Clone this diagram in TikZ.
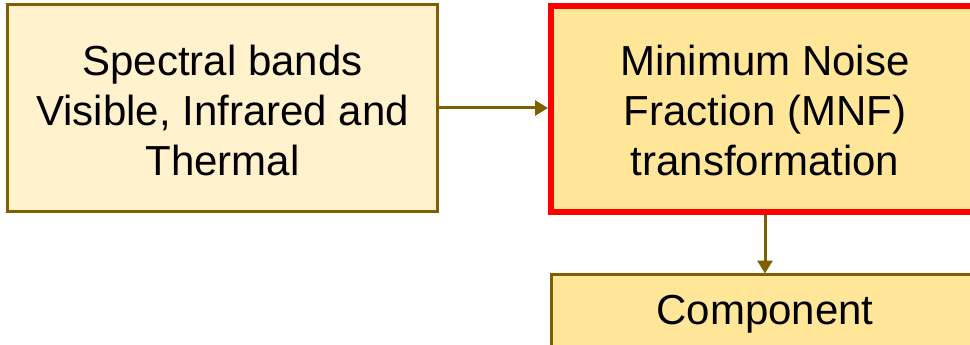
\documentclass[tikz,border=0pt]{standalone}
\usepackage{fontspec}
\setmainfont{Liberation Sans}
\usetikzlibrary{arrows.meta}
\definecolor{brd}{HTML}{7F6000}
\definecolor{lightfill}{HTML}{FFF2CC}
\definecolor{darkfill}{HTML}{FFE699}
\definecolor{redb}{HTML}{FF0000}
\tikzset{
  boxtext/.style={font=\fontsize{42}{50}\selectfont, align=center, text=black},
  conn/.style={draw=brd, line width=3pt, -{Triangle[length=13pt,width=15pt]}}
}
\begin{document}
\begin{tikzpicture}[x=1pt,y=1pt]
\useasboundingbox (0,0) rectangle (970,-345);
\clip (0,0) rectangle (970,-345);
\draw[brd, fill=lightfill, line width=3pt] (7.5,-4.5) rectangle (437.5,-211.5);
\draw[redb, fill=darkfill, line width=6pt] (551,-6) rectangle (980,-212);
\draw[brd, fill=darkfill, line width=2.5pt] (551.5,-274.5) rectangle (980,-400);
\node[boxtext] (a) at (222.5,-110) {Spectral bands\\Visible, Infrared and\\Thermal};
\node[boxtext] (b) at (765,-110) {Minimum Noise\\Fraction (MNF)\\transformation};
\node[boxtext] (c) at (765,-314) {Component};
\coordinate (ae) at (439,-108);
\coordinate (bw) at (548,-108);
\coordinate (bs) at (765,-215);
\coordinate (cn) at (765,-273.5);
\draw[conn] (ae) -- (bw);
\draw[conn] (bs) -- (cn);
\end{tikzpicture}
\end{document}
